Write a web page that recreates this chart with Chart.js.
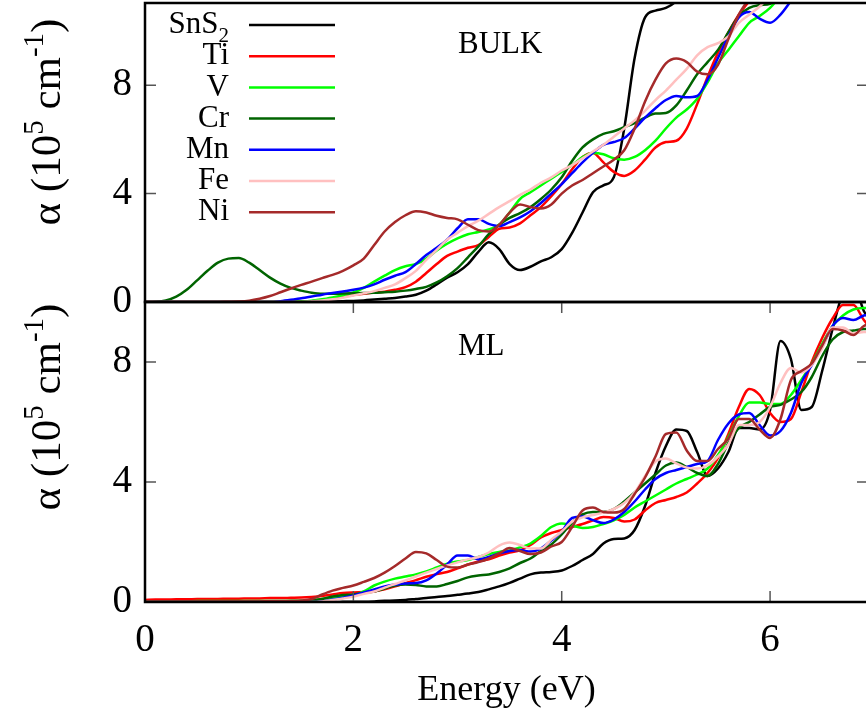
<!DOCTYPE html>
<html>
<head>
<meta charset="utf-8">
<script src="https://cdn.jsdelivr.net/npm/chart.js@4.4.1/dist/chart.umd.min.js"></script>
<style>
  html, body { margin: 0; padding: 0; background: #fff; overflow: hidden; }
  #lienzo { position: relative; width: 866px; height: 719px; overflow: hidden; background: #fff; }
  #lienzo canvas { position: absolute; left: 0; top: 0; }
</style>
</head>
<body>
<div id="lienzo">
  <canvas id="bulk" width="868" height="719"></canvas>
  <canvas id="ml" width="868" height="719"></canvas>
</div>
<script>
// energía (eV)
const energias = [
  0.0, 0.1, 0.2, 0.3, 0.4, 0.5, 0.6, 0.7, 0.8, 0.9,
  1.0, 1.1, 1.2, 1.3, 1.4, 1.5, 1.6, 1.7, 1.8, 1.9,
  2.0, 2.1, 2.2, 2.3, 2.4, 2.5, 2.6, 2.7, 2.8, 2.9,
  3.0, 3.1, 3.2, 3.3, 3.4, 3.5, 3.6, 3.7, 3.8, 3.9,
  4.0, 4.1, 4.2, 4.3, 4.4, 4.5, 4.6, 4.7, 4.8, 4.9,
  5.0, 5.1, 5.2, 5.3, 5.4, 5.5, 5.6, 5.7, 5.8, 5.9,
  6.0, 6.1, 6.2, 6.3, 6.4, 6.5, 6.6, 6.7, 6.8, 6.9,
  7.0
];

const series = ["SnS2", "Ti", "V", "Cr", "Mn", "Fe", "Ni"];
const colores = ["#000000", "#ff0000", "#00ff00", "#006400", "#0000ff", "#ffc0c0", "#a52a2a"];

const ticksY = [0, 4, 8];
const ticksX = [0, 2, 4, 6];

// BULK
const bulkSnS2 = [
  0, 0, 0, 0, 0, 0, 0, 0, 0, 0,
  0, 0, 0, 0, 0, 0, 0.01, 0.01, 0.02, 0.03,
  0.04, 0.06, 0.09, 0.12, 0.15, 0.2, 0.27, 0.42, 0.65, 0.9,
  1.1, 1.4, 1.85, 2.2, 1.95, 1.4, 1.18, 1.3, 1.5, 1.65,
  1.95, 2.55, 3.3, 4.05, 4.3, 4.6, 6.4, 9.0, 10.5, 10.75,
  10.85, 11.1, 11.6, 12.2, 12.8, 13.3, 13.8, 14.2, 14.6, 15,
  15.4, 15.8, 16.2, 16.6, 17, 17.4, 17.8, 18.2, 18.6, 19,
  19.4
];
const bulkTi = [
  0, 0, 0, 0, 0, 0, 0, 0, 0, 0,
  0, 0, 0, 0, 0, 0.01, 0.03, 0.06, 0.12, 0.2,
  0.26, 0.3, 0.35, 0.38, 0.45, 0.55, 0.75, 1.07, 1.4, 1.7,
  1.86, 2.0, 2.1, 2.4, 2.7, 2.75, 2.9, 3.2, 3.5, 3.9,
  4.35, 4.9, 5.35, 5.5, 5.15, 4.8, 4.65, 4.85, 5.25, 5.7,
  5.9, 5.95, 6.4, 7.3, 8.3, 9.2, 9.95, 10.6, 11.1, 11.6,
  12, 12.4, 12.8, 13.2, 13.6, 14, 14.4, 14.8, 15.2, 15.6,
  16
];
const bulkV = [
  0, 0, 0, 0, 0, 0, 0, 0, 0, 0,
  0, 0, 0, 0, 0, 0.02, 0.05, 0.1, 0.17, 0.25,
  0.35, 0.52, 0.75, 0.97, 1.18, 1.32, 1.4, 1.6, 1.9, 2.15,
  2.35, 2.5, 2.58, 2.68, 2.85, 3.3, 3.8, 4.05, 4.3, 4.55,
  4.8, 5.05, 5.35, 5.5, 5.45, 5.3, 5.25, 5.35, 5.6, 5.95,
  6.4, 6.8, 7.1, 7.5, 8.1, 8.8, 9.3, 9.8, 10.3, 10.55,
  10.85, 11.3, 11.8, 12.3, 12.8, 13.2, 13.6, 14, 14.4, 14.8,
  15.2
];
const bulkCr = [
  0, 0.01, 0.06, 0.2, 0.45, 0.8, 1.15, 1.45, 1.6, 1.62,
  1.45, 1.18, 0.9, 0.68, 0.52, 0.42, 0.34, 0.3, 0.3, 0.31,
  0.32, 0.33, 0.34, 0.36, 0.38, 0.42, 0.48, 0.56, 0.72, 0.95,
  1.25, 1.65, 2.05, 2.5, 2.85, 3.1, 3.28, 3.5, 3.8, 4.15,
  4.6, 5.2, 5.7, 6.0, 6.2, 6.3, 6.45, 6.6, 6.8, 6.95,
  6.97, 7.25, 7.8, 8.4, 8.85, 9.3, 9.95, 10.55, 10.85, 10.95,
  11.0, 11.3, 11.7, 12.1, 12.5, 12.9, 13.3, 13.7, 14.1, 14.5,
  14.9
];
const bulkMn = [
  0, 0, 0, 0, 0, 0, 0, 0, 0, 0,
  0, 0, 0, 0.03, 0.08, 0.14, 0.2, 0.27, 0.33, 0.39,
  0.45, 0.53, 0.65, 0.82, 0.97, 1.1, 1.4, 1.73, 2.0, 2.3,
  2.72, 3.05, 3.05, 2.88, 2.8, 2.95, 3.12, 3.35, 3.65, 4.0,
  4.35, 4.75, 5.15, 5.5, 5.8, 5.9, 6.05, 6.4, 6.8, 7.15,
  7.45, 7.6, 7.55, 7.6, 8.2, 9.0, 9.8, 10.5, 10.7, 10.45,
  10.3, 10.6, 11.1, 11.6, 12.1, 12.6, 13.1, 13.5, 13.9, 14.3,
  14.7
];
const bulkFe = [
  0, 0, 0, 0, 0, 0, 0, 0, 0, 0,
  0, 0, 0, 0, 0, 0, 0.03, 0.06, 0.1, 0.16,
  0.24, 0.32, 0.4, 0.52, 0.65, 0.88, 1.15, 1.55, 1.92, 2.3,
  2.55, 2.8, 3.0, 3.25, 3.5, 3.72, 3.95, 4.15, 4.4, 4.6,
  4.85, 5.05, 5.3, 5.55, 5.8, 6.1, 6.4, 6.7, 7.05, 7.45,
  7.8, 8.2, 8.6, 9.1, 9.4, 9.55, 9.8, 10.3, 10.6, 10.9,
  11.3, 11.7, 12.1, 12.5, 12.9, 13.3, 13.7, 14.1, 14.5, 14.9,
  15.3
];
const bulkNi = [
  0, 0, 0, 0, 0, 0, 0, 0, 0.01, 0.02,
  0.05, 0.12, 0.22, 0.36, 0.5, 0.63, 0.75, 0.88, 1.0, 1.15,
  1.35, 1.6, 2.1, 2.6, 2.95, 3.2, 3.35, 3.3, 3.18, 3.1,
  3.05, 2.85, 2.65, 2.6, 2.85, 3.3, 3.6, 3.5, 3.45, 3.6,
  4.0, 4.3, 4.5, 4.75, 5.0, 5.25, 5.6, 6.4, 7.4, 8.2,
  8.8, 8.98, 8.85, 8.5, 8.4, 8.75, 9.7, 10.6, 11.2, 11.7,
  12.1, 12.5, 12.9, 13.3, 13.7, 14.1, 14.5, 14.9, 15.3, 15.7,
  16.1
];

// ML
const mlSnS2 = [
  0, 0, 0, 0, 0, 0, 0, 0, 0, 0,
  0, 0, 0, 0, 0, 0, 0, 0, 0, 0.005,
  0.01, 0.01, 0.02, 0.04, 0.05, 0.07, 0.1, 0.13, 0.17, 0.2,
  0.24, 0.28, 0.33, 0.42, 0.52, 0.64, 0.78, 0.92, 0.98, 1.0,
  1.05, 1.2, 1.4, 1.6, 1.95, 2.1, 2.12, 2.4, 3.2, 4.3,
  5.2, 5.75, 5.7, 5.0, 4.2, 4.45, 5.0, 5.8, 5.8, 5.75,
  6.4, 8.7, 8.1, 6.4, 6.5, 7.7, 9.1, 10.3, 10.6, 9.7,
  9.2
];
const mlTi = [
  0.07, 0.08, 0.08, 0.09, 0.09, 0.1, 0.1, 0.1, 0.11, 0.11,
  0.12, 0.12, 0.13, 0.13, 0.14, 0.15, 0.17, 0.2, 0.25, 0.3,
  0.32, 0.33, 0.35, 0.42, 0.52, 0.63, 0.73, 0.84, 0.93, 1.0,
  1.12, 1.25, 1.35, 1.42, 1.55, 1.65, 1.72, 1.9, 2.15, 2.3,
  2.4, 2.5, 2.6, 2.72, 2.83, 2.8, 2.68, 2.75, 3.05, 3.3,
  3.4, 3.5, 3.65, 3.95, 4.3, 4.8, 5.6, 6.5, 7.1, 6.9,
  6.3, 6.0, 6.1, 7.0, 8.0, 8.8, 9.45, 9.9, 9.9, 9.4,
  9.0
];
const mlV = [
  0.02, 0.02, 0.02, 0.02, 0.02, 0.03, 0.03, 0.03, 0.03, 0.03,
  0.03, 0.03, 0.03, 0.03, 0.04, 0.04, 0.06, 0.1, 0.14, 0.18,
  0.22, 0.35, 0.55, 0.68, 0.78, 0.85, 0.92, 1.02, 1.15, 1.28,
  1.35, 1.4, 1.5, 1.6, 1.67, 1.72, 1.82, 1.95, 2.2, 2.5,
  2.62, 2.55, 2.47, 2.5, 2.6, 2.72, 2.9, 3.15, 3.35, 3.55,
  3.75, 3.95, 4.1, 4.25, 4.45, 4.9, 5.5, 6.2, 6.65, 6.65,
  6.6, 6.6, 6.9, 7.4, 7.95, 8.6, 9.2, 9.55, 9.75, 9.8,
  9.8
];
const mlCr = [
  0.01, 0.01, 0.01, 0.01, 0.01, 0.01, 0.01, 0.01, 0.01, 0.01,
  0.01, 0.01, 0.01, 0.01, 0.02, 0.03, 0.05, 0.1, 0.18, 0.23,
  0.25, 0.3, 0.35, 0.45, 0.55, 0.58, 0.57, 0.52, 0.52, 0.6,
  0.7, 0.82, 0.88, 0.92, 1.0, 1.12, 1.3, 1.45, 1.7, 1.92,
  2.25, 2.65, 2.92, 3.0, 3.0, 3.1, 3.35, 3.65, 3.95, 4.25,
  4.55, 4.65, 4.5, 4.3, 4.2, 4.6, 5.3, 5.8, 6.0, 6.25,
  6.5, 6.57, 6.75, 7.0, 7.5, 8.2, 8.75, 9.0, 9.05, 9.1,
  9.1
];
const mlMn = [
  0, 0, 0, 0, 0, 0, 0, 0, 0, 0,
  0, 0, 0, 0, 0, 0, 0, 0.02, 0.08, 0.14,
  0.22, 0.32, 0.42, 0.52, 0.58, 0.62, 0.63, 0.72, 0.95, 1.25,
  1.55, 1.55, 1.42, 1.5, 1.62, 1.7, 1.73, 1.68, 1.78, 2.05,
  2.35, 2.8, 2.85, 2.73, 2.63, 2.75, 3.0, 3.35, 3.75, 4.1,
  4.3, 4.4, 4.5, 4.6, 4.7, 5.4, 5.95, 6.25, 6.3, 5.9,
  5.55, 5.7, 6.3, 7.3, 7.9, 8.5, 9.2, 9.47, 9.4, 9.55,
  9.6
];
const mlFe = [
  0, 0, 0, 0, 0, 0, 0, 0, 0, 0,
  0, 0, 0, 0, 0, 0, 0, 0.02, 0.07, 0.12,
  0.18, 0.27, 0.35, 0.48, 0.6, 0.72, 0.85, 0.98, 1.1, 1.22,
  1.32, 1.42, 1.5, 1.65, 1.88, 1.98, 1.9, 1.78, 1.78, 2.08,
  2.35, 2.68, 2.82, 2.9, 2.98, 3.1, 3.3, 3.65, 4.2, 4.68,
  4.78, 4.62, 4.48, 4.45, 4.55, 4.85, 5.25, 5.9, 5.9, 6.0,
  6.5, 7.3, 7.8, 7.65, 7.9, 8.45, 9.15, 9.15, 8.95, 9.0,
  9.0
];
const mlNi = [
  0.02, 0.02, 0.02, 0.02, 0.02, 0.02, 0.02, 0.02, 0.02, 0.02,
  0.02, 0.02, 0.03, 0.03, 0.04, 0.05, 0.1, 0.25, 0.38, 0.47,
  0.55, 0.67, 0.8, 0.98, 1.2, 1.45, 1.67, 1.62, 1.4, 1.18,
  1.15, 1.25, 1.33, 1.45, 1.62, 1.8, 1.7, 1.6, 1.65, 1.85,
  2.0, 2.5, 3.05, 3.15, 3.0, 2.98, 3.1, 3.6, 4.15, 4.85,
  5.6, 5.65, 5.05, 4.7, 4.7, 5.1, 5.45, 6.1, 6.1, 5.75,
  5.47, 6.1, 7.4, 7.7, 7.95, 8.55, 9.1, 9.05, 8.9, 9.2,
  9.3
];

const datosBulk = [bulkSnS2, bulkTi, bulkV, bulkCr, bulkMn, bulkFe, bulkNi];
const datosMl = [mlSnS2, mlTi, mlV, mlCr, mlMn, mlFe, mlNi];

const FUENTE = "'Liberation Serif', 'Times New Roman', serif";

function armarDatasets(tabla) {
  return tabla.map((valores, i) => ({
    label: series[i],
    data: valores.map((v, k) => ({ x: energias[k], y: v })),
    borderColor: colores[i],
    borderWidth: 2.5,
    pointRadius: 0,
    fill: false,
    cubicInterpolationMode: "monotone",
    order: series.length - 1 - i
  }));
}

// marco negro y marcas de los ejes
const marco = {
  id: "marco",
  afterDatasetsDraw(chart, args, opts) {
    const { ctx, chartArea: a, scales } = chart;
    ctx.save();
    ctx.strokeStyle = "#555";
    ctx.lineWidth = 1.5;
    ctx.beginPath();
    ticksY.forEach((v) => {
      const y = scales.y.getPixelForValue(v);
      ctx.moveTo(a.left, y);
      ctx.lineTo(a.left + 11, y);
      ctx.moveTo(a.right, y);
      ctx.lineTo(a.right - 11, y);
    });
    if (opts.ejeX) {
      ticksX.forEach((v) => {
        const x = scales.x.getPixelForValue(v);
        ctx.moveTo(x, a.bottom);
        ctx.lineTo(x, a.bottom - 11);
        ctx.moveTo(x, a.top);
        ctx.lineTo(x, a.top + 11);
      });
    }
    ctx.stroke();
    ctx.strokeStyle = "#000";
    ctx.lineWidth = 2.5;
    ctx.strokeRect(a.left, a.top, a.right - a.left, a.bottom - a.top);
    ctx.restore();
  }
};

// título del eje y con superíndices
function tituloY(ctx, cx, cy) {
  const partes = [
    ["\u03b1 (10", 43, 0],
    ["5", 29, -17],
    [" cm", 43, 0],
    ["-1", 29, -17],
    [")", 43, 0]
  ];
  let total = 0;
  partes.forEach((p) => {
    ctx.font = p[1] + "px " + FUENTE;
    total += ctx.measureText(p[0]).width;
  });
  ctx.save();
  ctx.translate(cx, cy);
  ctx.rotate(-Math.PI / 2);
  ctx.fillStyle = "#000";
  ctx.textBaseline = "alphabetic";
  ctx.textAlign = "left";
  let x = -total / 2;
  partes.forEach((p) => {
    ctx.font = p[1] + "px " + FUENTE;
    ctx.fillText(p[0], x, p[2]);
    x += ctx.measureText(p[0]).width;
  });
  ctx.restore();
}

const textos = {
  id: "textos",
  afterDraw(chart, args, opts) {
    const ctx = chart.ctx;
    tituloY(ctx, 60, opts.centroY);
    ctx.save();
    ctx.fillStyle = "#000";
    ctx.font = "31px " + FUENTE;
    ctx.textAlign = "left";
    ctx.textBaseline = "alphabetic";
    ctx.fillText(opts.panel, 458, opts.baseY);
    if (opts.leyenda) {
      series.forEach((nombre, i) => {
        const y = 25 + i * 31.2;
        ctx.textBaseline = "middle";
        ctx.textAlign = "right";
        if (nombre === "SnS2") {
          ctx.font = "21px " + FUENTE;
          const w2 = ctx.measureText("2").width;
          ctx.fillText("2", 229, y + 11);
          ctx.font = "31px " + FUENTE;
          ctx.fillText("SnS", 229 - w2, y);
        } else {
          ctx.font = "31px " + FUENTE;
          ctx.fillText(nombre, 229, y);
        }
        ctx.strokeStyle = colores[i];
        ctx.lineWidth = 2.5;
        ctx.beginPath();
        ctx.moveTo(249, y);
        ctx.lineTo(335, y);
        ctx.stroke();
      });
    }
    ctx.restore();
  }
};

function ejeY(max) {
  return {
    type: "linear",
    min: 0,
    max: max,
    afterFit: (s) => {
      s.width = 145;
      s.paddingTop = 0;
      s.paddingBottom = 0;
    },
    afterBuildTicks: (s) => { s.ticks = ticksY.map((v) => ({ value: v })); },
    ticks: { color: "#000", padding: 13, font: { family: FUENTE, size: 39 } },
    grid: { display: false, drawTicks: false },
    border: { display: false }
  };
}

new Chart(document.getElementById("bulk"), {
  type: "line",
  data: { datasets: armarDatasets(datosBulk) },
  options: {
    responsive: false,
    animation: false,
    layout: { padding: { left: 0, right: 0, top: 3, bottom: 719 - 302 } },
    scales: {
      x: { type: "linear", min: 0, max: 6.94, display: false },
      y: ejeY(11.03)
    },
    plugins: {
      legend: { display: false },
      tooltip: { enabled: false },
      marco: { ejeX: false },
      textos: { centroY: 122, panel: "BULK", baseY: 53, leyenda: true }
    }
  },
  plugins: [marco, textos]
});

new Chart(document.getElementById("ml"), {
  type: "line",
  data: { datasets: armarDatasets(datosMl) },
  options: {
    responsive: false,
    animation: false,
    layout: { padding: { left: 0, right: 0, top: 302, bottom: 0 } },
    scales: {
      x: {
        type: "linear",
        min: 0,
        max: 6.94,
        afterFit: (s) => {
          s.height = 117;
          s.paddingLeft = 0;
          s.paddingRight = 0;
        },
        afterBuildTicks: (s) => { s.ticks = ticksX.map((v) => ({ value: v })); },
        ticks: { color: "#000", padding: 15, maxRotation: 0, font: { family: FUENTE, size: 39 } },
        grid: { display: false, drawTicks: false },
        border: { display: false },
        title: {
          display: true,
          text: "Energy (eV)",
          color: "#000",
          font: { family: FUENTE, size: 36 },
          padding: { top: 0, bottom: 7 }
        }
      },
      y: ejeY(10)
    },
    plugins: {
      legend: { display: false },
      tooltip: { enabled: false },
      marco: { ejeX: true },
      textos: { centroY: 407, panel: "ML", baseY: 355, leyenda: false }
    }
  },
  plugins: [marco, textos]
});
</script>
</body>
</html>
